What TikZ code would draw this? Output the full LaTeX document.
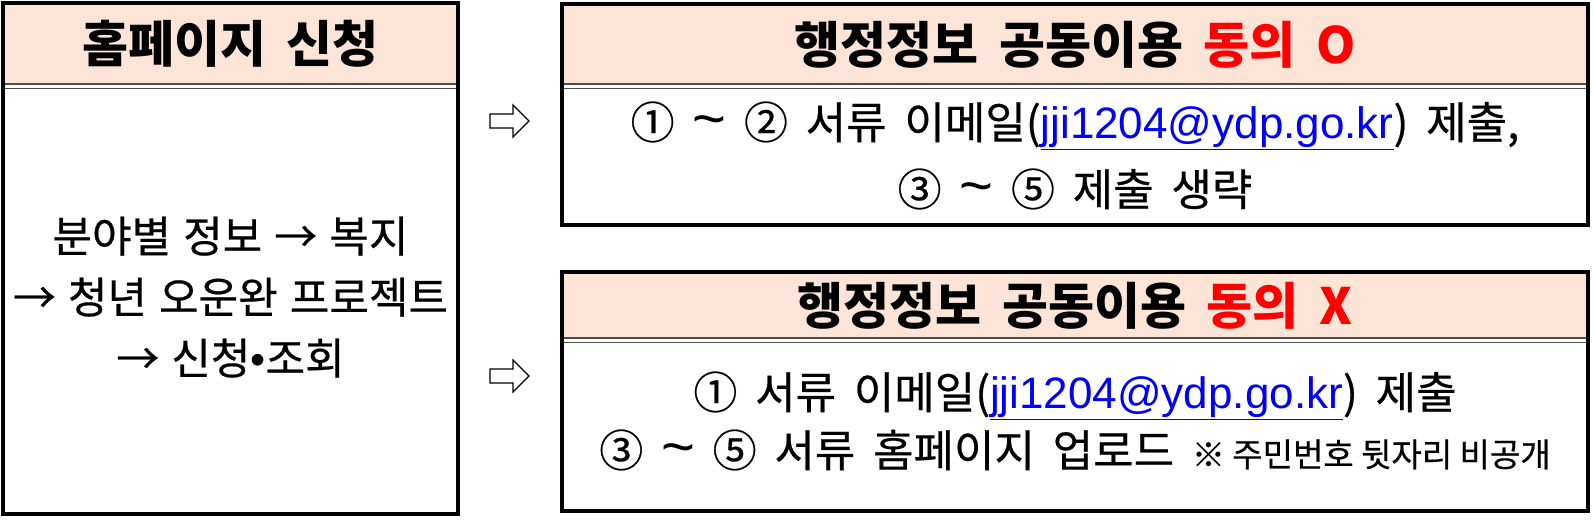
\documentclass[tikz,border=0pt]{standalone}
\usepackage{fontspec}
\setmainfont[WordSpace=1.8]{Noto Sans CJK KR}
\newfontfamily\notefont[FakeBold=0.5]{Noto Sans CJK KR}
\newfontfamily\latinfont{Liberation Sans}
\usetikzlibrary{positioning}
\definecolor{HeadFill}{RGB}{252,229,214}
\definecolor{LinkBlue}{RGB}{0,0,255}
\definecolor{AgreeRed}{RGB}{255,0,0}
\newcommand{\leftspacing}{\spaceskip=.28em plus .1em\relax}

\begin{document}
\begin{tikzpicture}[x=1pt,y=-1pt,>=latex]
			%\draw[help lines] (0,0) grid (1594,520);
			\tikzstyle{headbox}=[fill=HeadFill,draw=none,inner sep=0pt,font=\fontsize{50}{54}\selectfont\bfseries,text height=44pt,text depth=6pt]
			\tikzstyle{bodybox}=[fill=white,draw=none,inner sep=0pt]
			\tikzstyle{bodytext}=[inner sep=0pt,font=\fontsize{44}{50}\selectfont\addfontfeature{FakeBold=0.5},text height=38.7pt,text depth=5.3pt]
			\tikzstyle{lefttext}=[bodytext,font=\fontsize{43}{48}\selectfont\addfontfeature{FakeBold=0.5}\leftspacing,text height=37.8pt,text depth=5.2pt]
			\tikzstyle{sepline}=[draw=black!70,line width=1.5pt]
			\tikzstyle{frame}=[draw=black,line width=3.5pt]
			\tikzstyle{blockarrow}=[draw=black,fill=white,line width=1.2pt,line join=miter]
			\newcommand{\mail}{{\latinfont\textcolor{LinkBlue}{\underline{jji1204@ydp.go.kr}}}}
			\newcommand{\wave}{{\latinfont\fontsize{58}{60}\selectfont\textasciitilde}}
			\useasboundingbox (0,0) rectangle (1594,520);
			
			%% Homepage box
			\draw (230.5,43.5) node [headbox,minimum width=455,minimum height=81] (hp) {홈페이지 신청};
			\draw (230.5,301.5) node [bodybox,minimum width=455,minimum height=425] (hpb) {};
			\draw (230.5,236) node [lefttext] (hp1) {분야별 정보 → 복지};
			\draw (230.5,297) node [lefttext] (hp2) {→ 청년 오운완 프로젝트};
			\draw (230.5,358) node [lefttext] (hp3) {→ 신청{\latinfont •}조회};
			\path [sepline] (hp.south west) -- (hp.south east);
			\path [sepline] ([yshift=-4.5pt]hp.south west) -- ([yshift=-4.5pt]hp.south east);
			\path [frame] (hp.north west) rectangle (hpb.south east);
			
			%% Consent O
			\draw (1075,44) node [headbox,minimum width=1026,minimum height=80] (ao) {행정정보 공동이용 \textcolor{AgreeRed}{동의 O}};
			\draw (1075,156.5) node [bodybox,minimum width=1026,minimum height=137] (aob) {};
			\draw (1075,122) node [bodytext] (ao1) {① \wave{} ② 서류 이메일(\mail) 제출,};
			\draw (1075,189) node [bodytext] (ao2) {③ \wave{} ⑤ 제출 생략};
			\path [sepline] (ao.south west) -- (ao.south east);
			\path [sepline] ([yshift=-4.5pt]ao.south west) -- ([yshift=-4.5pt]ao.south east);
			\path [frame] (ao.north west) rectangle (aob.south east);
			
			%% Consent X
			\draw (1075,305) node [headbox,minimum width=1026,minimum height=66] (ax) {행정정보 공동이용 \textcolor{AgreeRed}{동의 X}};
			\draw (1075,426.5) node [bodybox,minimum width=1026,minimum height=169] (axb) {};
			\draw (1075,392) node [bodytext] (ax1) {① 서류 이메일(\mail) 제출};
			\draw (1075,450) node [bodytext] (ax2) {③ \wave{} ⑤ 서류 홈페이지 업로드 {\notefont\fontsize{33}{36}\selectfont ※ 주민번호 뒷자리 비공개}};
			\path [sepline] (ax.south west) -- (ax.south east);
			\path [sepline] ([yshift=-4.5pt]ax.south west) -- ([yshift=-4.5pt]ax.south east);
			\path [frame] (ax.north west) rectangle (axb.south east);
			
			%% Arrows
			\foreach \ay in {121,376}
				\draw [blockarrow] (490,\ay-7) -- ++(23,0) -- ++(0,-9) -- ++(16,16) -- ++(-16,16) -- ++(0,-9) -- ++(-23,0) -- cycle;
			
		\end{tikzpicture}
\end{document}
